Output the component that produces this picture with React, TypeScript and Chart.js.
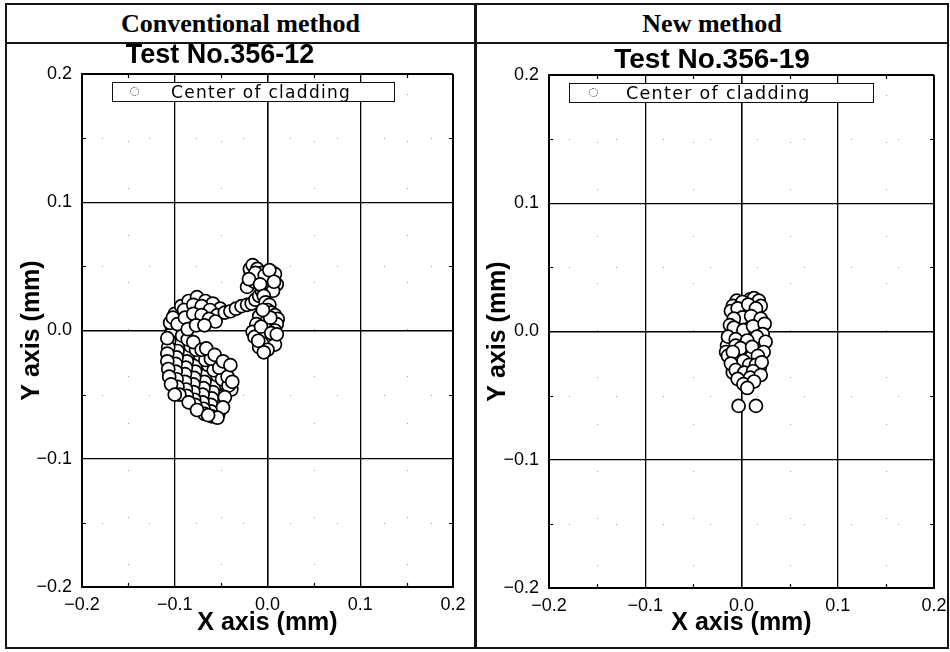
import React, { useEffect, useRef } from "react";
import { Chart, registerables } from "chart.js";

Chart.register(...registerables);

// Axis ticks shared by both plots (mm)
const TICK_VALUES = [-0.2, -0.1, 0, 0.1, 0.2];
const TICK_LABELS = ["\u22120.2", "\u22120.1", "0.0", "0.1", "0.2"];
const MINOR_VALUES = [-0.15, -0.05, 0.05, 0.15];

const SERIES_LABEL = "Center of cladding";

// Conventional method, Test No.356-12: cladding centre positions (mm)
const CONV_X = [
  -0.103, -0.094, -0.084, -0.075, -0.065, -0.056, -0.046,
  -0.104, -0.095, -0.086, -0.076, -0.067, -0.057, -0.048,
  -0.106, -0.097, -0.087, -0.078, -0.068, -0.059, -0.05,
  -0.107, -0.098, -0.088, -0.079, -0.069, -0.06, -0.051,
  -0.108, -0.099, -0.089, -0.08, -0.07, -0.061, -0.053,
  -0.108, -0.099, -0.089, -0.08, -0.07, -0.061,
  -0.107, -0.098, -0.088, -0.079, -0.069, -0.06,
  -0.106, -0.097, -0.087, -0.078, -0.068,
  -0.104, -0.095, -0.085, -0.076,
  -0.092, -0.083, -0.073, -0.064, -0.054, -0.045, -0.039,
  -0.086, -0.077, -0.067, -0.058, -0.049, -0.042,
  -0.08, -0.071, -0.061, -0.052, -0.043, -0.038,
  -0.066, -0.057, -0.048, -0.04,
  -0.046, -0.048, -0.054, -0.064, -0.1,
  -0.108, -0.105, -0.1, -0.093, -0.085, -0.076, -0.067, -0.059, -0.051,
  -0.102, -0.09, -0.08, -0.071, -0.062, -0.054,
  -0.097, -0.089, -0.08, -0.071, -0.063, -0.056, -0.086, -0.077, -0.068,
  -0.046, -0.04, -0.034, -0.028, -0.022, -0.017, -0.013, -0.009, -0.006,
  -0.022, -0.018, -0.019, -0.016, -0.011, -0.009, -0.014, -0.006, -0.005, -0.002, 0.0, 0.005, 0.004, 0.008, 0.01, 0.006,
  -0.013, -0.003, 0.002, -0.02, 0.007, -0.008,
  -0.004, -0.002, 0.002,
  0.0, 0.004, -0.005, 0.008, -0.009, 0.011, -0.001, -0.012, 0.01, -0.001, 0.008, -0.016, -0.014, -0.003, 0.006, 0.004, -0.006, 0.008, -0.009, 0.0, -0.004,
  0.003, -0.007, 0.004, -0.01, 0.01, -0.005,
];
const CONV_Y = [
  0.002, -0.006, -0.014, -0.022, -0.03, -0.038, -0.046,
  -0.003, -0.011, -0.019, -0.027, -0.035, -0.043, -0.051,
  -0.008, -0.016, -0.024, -0.032, -0.04, -0.048, -0.056,
  -0.013, -0.021, -0.029, -0.037, -0.045, -0.053, -0.061,
  -0.018, -0.026, -0.034, -0.042, -0.05, -0.058, -0.065,
  -0.024, -0.032, -0.04, -0.048, -0.056, -0.063,
  -0.03, -0.038, -0.046, -0.054, -0.061, -0.067,
  -0.036, -0.044, -0.051, -0.058, -0.065,
  -0.042, -0.05, -0.056, -0.062,
  -0.004, -0.012, -0.019, -0.027, -0.035, -0.042, -0.046,
  -0.007, -0.015, -0.023, -0.031, -0.038, -0.043,
  -0.009, -0.015, -0.022, -0.029, -0.036, -0.04,
  -0.014, -0.019, -0.024, -0.027,
  -0.052, -0.06, -0.068, -0.066, -0.05,
  -0.006, 0.006, 0.013, 0.019, 0.023, 0.026, 0.023, 0.021, 0.017,
  0.01, 0.016, 0.02, 0.019, 0.016, 0.012,
  0.005, 0.01, 0.013, 0.012, 0.009, 0.007, 0.001, 0.004, 0.004,
  0.014, 0.015, 0.017, 0.019, 0.02, 0.021, 0.024, 0.027, 0.031,
  0.034, 0.043, 0.048, 0.051, 0.048, 0.042, 0.038, 0.045, 0.034, 0.037, 0.041, 0.04, 0.046, 0.044, 0.036, 0.031,
  0.045, 0.043, 0.047, 0.04, 0.038, 0.036,
  0.027, 0.022, 0.02,
  0.016, 0.014, 0.012, 0.012, 0.011, 0.009, 0.007, 0.005, 0.005, 0.001, 0.0, -0.001, -0.005, -0.005, -0.005, -0.009, -0.01, -0.011, -0.013, -0.015, -0.017,
  0.01, 0.003, -0.002, -0.008, -0.003, 0.016,
];

// New method, Test No.356-19: cladding centre positions (mm)
const NEW_X = [
  -0.005, 0.009, 0.004, -0.002, 0.007, 0.017, -0.01, 0.001, 0.012, 0.019,
  -0.011, 0.005, 0.01, -0.004, 0.019, -0.009, 0.016, -0.015, -0.016,
  -0.009, 0.001, 0.013, 0.018, 0.02, -0.011, -0.004, 0.007, 0.015, 0.001,
  -0.008, 0.01, 0.02, -0.012, -0.008, 0.002, 0.012, 0.024, 0.022, 0.016,
  -0.014, -0.006, 0.006, -0.006, -0.001, 0.011, 0.025, 0.023, -0.014, -0.009,
  0.017, 0.002, -0.011, 0.008, 0.015, 0.021, -0.006, 0.003, 0.012, -0.004,
  0.009, 0.02, 0.002, 0.013, 0.006, -0.003, 0.015,
];
const NEW_Y = [
  0.024, 0.025, 0.016, 0.006, 0.008, 0.008, -0.001, -0.006, -0.006, -0.01,
  -0.012, -0.016, -0.02, -0.021, -0.028, -0.032, -0.035, -0.011, -0.016,
  0.02, 0.023, 0.026, 0.024, 0.02, 0.016, 0.018, 0.021, 0.018, 0.011,
  0.01, 0.012, 0.01, 0.005, 0.003, 0.001, 0.004, 0.006, -0.002, -0.004,
  -0.004, -0.006, -0.007, -0.011, -0.013, -0.012, -0.008, -0.016, -0.019, -0.016,
  -0.019, -0.023, -0.025, -0.026, -0.026, -0.024, -0.03, -0.032, -0.031, -0.037,
  -0.036, -0.034, -0.041, -0.039, -0.044, -0.058, -0.058,
];

const SANS = "'Liberation Sans', Arial, sans-serif";
const SERIF = "'Liberation Serif', 'Times New Roman', serif";

// Small inward tick marks at the half-steps and sparse dotted half-step guides
const minorGridPlugin = {
  id: "minorGrid",
  beforeDatasetsDraw(chart: any) {
    const { ctx, chartArea: a } = chart;
    const xs = chart.scales.x;
    const ys = chart.scales.y;
    ctx.save();
    ctx.strokeStyle = "#a0a0a0";
    ctx.lineWidth = 1;
    ctx.setLineDash([1, 46]);
    for (const v of MINOR_VALUES) {
      const px = Math.round(xs.getPixelForValue(v)) + 0.5;
      const py = Math.round(ys.getPixelForValue(v)) + 0.5;
      ctx.beginPath();
      ctx.moveTo(px, a.top + 20);
      ctx.lineTo(px, a.bottom);
      ctx.moveTo(a.left + 20, py);
      ctx.lineTo(a.right, py);
      ctx.stroke();
    }
    ctx.setLineDash([]);
    ctx.strokeStyle = "#000";
    ctx.lineWidth = 1.2;
    ctx.beginPath();
    for (const v of MINOR_VALUES) {
      const px = Math.round(xs.getPixelForValue(v)) + 0.5;
      const py = Math.round(ys.getPixelForValue(v)) + 0.5;
      ctx.moveTo(px, a.bottom);
      ctx.lineTo(px, a.bottom - 4);
      ctx.moveTo(px, a.top);
      ctx.lineTo(px, a.top + 4);
      ctx.moveTo(a.left, py);
      ctx.lineTo(a.left + 4, py);
      ctx.moveTo(a.right, py);
      ctx.lineTo(a.right - 4, py);
    }
    ctx.stroke();
    ctx.restore();
  },
};

type PanelProps = {
  heading: string;
  testNo: string;
  xs: number[];
  ys: number[];
  frame: { left: number; width: number };
  canvasBox: { left: number; width: number };
  yAxisWidth: number;
  padRight: number;
  padTop: number;
  xAxisHeight: number;
  yTitlePad: number;
  testBox: { cx: number; top: number; size: number };
  legendBox: { left: number; top: number; width: number; markerX: number; textX: number; size: number };
};

const TOP = 3;
const FRAME_H = 646;
const CANVAS_TOP = 43;
const CANVAS_H = 604;

function Panel(p: PanelProps) {
  const ref = useRef<HTMLCanvasElement | null>(null);

  useEffect(() => {
    if (!ref.current) return;
    const points = p.xs.map((x, i) => ({ x, y: p.ys[i] }));
    const gridWidth = (c: any) => {
      const v = c.tick ? c.tick.value : 0;
      if (Math.abs(Math.abs(v) - 0.2) < 1e-9) return 2;
      if (Math.abs(v) < 1e-9) return 1.6;
      return 1.3;
    };
    const chart = new Chart(ref.current, {
      type: "scatter",
      data: {
        datasets: [
          {
            label: SERIES_LABEL,
            data: points,
            pointRadius: 6.5,
            pointBackgroundColor: "#ffffff",
            pointBorderColor: "#000000",
            pointBorderWidth: 1.7,
            showLine: false,
          },
        ],
      },
      options: {
        animation: false,
        responsive: false,
        maintainAspectRatio: false,
        events: [],
        layout: { padding: { left: 0, top: p.padTop, right: p.padRight, bottom: 0 } },
        plugins: {
          legend: { display: false },
          tooltip: { enabled: false },
          title: { display: false },
        },
        scales: {
          x: {
            type: "linear",
            min: -0.2,
            max: 0.2,
            afterBuildTicks: (s: any) => {
              s.ticks = TICK_VALUES.map((value) => ({ value }));
            },
            afterFit: (s: any) => {
              s.height = p.xAxisHeight;
              s.paddingLeft = 0;
              s.paddingRight = 0;
            },
            ticks: {
              callback: (_v: any, i: number) => TICK_LABELS[i],
              font: { family: SANS, size: 18 },
              color: "#000",
              padding: 7,
              maxRotation: 0,
              autoSkip: false,
            },
            grid: { color: "#000", lineWidth: gridWidth, drawTicks: false },
            border: { display: true, color: "#000", width: 2 },
            title: {
              display: true,
              text: "X axis (mm)",
              font: { family: SANS, size: 25, weight: "bold" },
              color: "#000",
              padding: { top: 0, bottom: 9 },
            },
          },
          y: {
            type: "linear",
            min: -0.2,
            max: 0.2,
            afterBuildTicks: (s: any) => {
              s.ticks = TICK_VALUES.map((value) => ({ value }));
            },
            afterFit: (s: any) => {
              s.width = p.yAxisWidth;
              s.paddingTop = 0;
              s.paddingBottom = 0;
            },
            ticks: {
              callback: (_v: any, i: number) => TICK_LABELS[i],
              font: { family: SANS, size: 18 },
              color: "#000",
              padding: 10,
              autoSkip: false,
            },
            grid: { color: "#000", lineWidth: gridWidth, drawTicks: false },
            border: { display: true, color: "#000", width: 2 },
            title: {
              display: true,
              text: "Y axis (mm)",
              font: { family: SANS, size: 25, weight: "bold" },
              color: "#000",
              padding: { top: p.yTitlePad, bottom: 0 },
            },
          },
        },
      } as any,
      plugins: [minorGridPlugin],
    });
    return () => chart.destroy();
  }, []);

  const lb = p.legendBox;
  return (
    <>
      <div
        style={{
          position: "absolute",
          left: p.frame.left,
          top: TOP,
          width: p.frame.width,
          height: FRAME_H,
          boxSizing: "border-box",
          border: "2px solid #151515",
        }}
      >
        <div
          style={{
            height: 39,
            boxSizing: "border-box",
            borderBottom: "2px solid #151515",
            textAlign: "center",
            font: `bold 26px ${SERIF}`,
            lineHeight: "37px",
            color: "#000",
          }}
        >
          {p.heading}
        </div>
      </div>
      <canvas
        ref={ref}
        width={p.canvasBox.width}
        height={CANVAS_H}
        style={{
          position: "absolute",
          left: p.canvasBox.left,
          top: CANVAS_TOP,
          width: p.canvasBox.width,
          height: CANVAS_H,
        }}
      />
      <div
        style={{
          position: "absolute",
          left: p.testBox.cx - 150,
          top: p.testBox.top,
          width: 300,
          textAlign: "center",
          font: `bold ${p.testBox.size}px ${SANS}`,
          lineHeight: "30px",
          color: "#000",
          whiteSpace: "nowrap",
        }}
      >
        {p.testNo}
      </div>
      <div
        style={{
          position: "absolute",
          left: lb.left,
          top: lb.top,
          width: lb.width,
          height: 20,
          boxSizing: "border-box",
          border: "1.5px solid #111",
          background: "#fff",
        }}
      >
        <span
          style={{
            position: "absolute",
            left: lb.markerX - lb.left - 4,
            top: 4,
            width: 7,
            height: 7,
            borderRadius: "50%",
            border: "1px dotted #444",
          }}
        />
        <span
          style={{
            position: "absolute",
            left: lb.textX - lb.left,
            top: -1,
            font: `${lb.size}px 'DejaVu Sans', sans-serif`,
            letterSpacing: "1.3px",
            lineHeight: "20px",
            color: "#000",
            whiteSpace: "nowrap",
          }}
        >
          {SERIES_LABEL}
        </span>
      </div>
    </>
  );
}

export default function App() {
  return (
    <div
      style={{
        position: "absolute",
        left: 0,
        top: 0,
        width: 950,
        height: 652,
        background: "#fff",
        overflow: "hidden",
      }}
    >
      <Panel
        heading="Conventional method"
        testNo="Test No.356-12"
        xs={CONV_X}
        ys={CONV_Y}
        frame={{ left: 5, width: 471 }}
        canvasBox={{ left: 7, width: 467 }}
        yAxisWidth={75}
        padRight={21}
        padTop={31}
        xAxisHeight={60}
        yTitlePad={10}
        testBox={{ cx: 220, top: 39, size: 27 }}
        legendBox={{ left: 112, top: 82, width: 283, markerX: 133, textX: 170, size: 17 }}
      />
      <Panel
        heading="New method"
        testNo="Test No.356-19"
        xs={NEW_X}
        ys={NEW_Y}
        frame={{ left: 475, width: 474 }}
        canvasBox={{ left: 477, width: 471 }}
        yAxisWidth={72}
        padRight={14}
        padTop={32}
        xAxisHeight={59}
        yTitlePad={6}
        testBox={{ cx: 712, top: 44, size: 28 }}
        legendBox={{ left: 569, top: 83, width: 305, markerX: 592, textX: 625, size: 17.5 }}
      />
    </div>
  );
}
